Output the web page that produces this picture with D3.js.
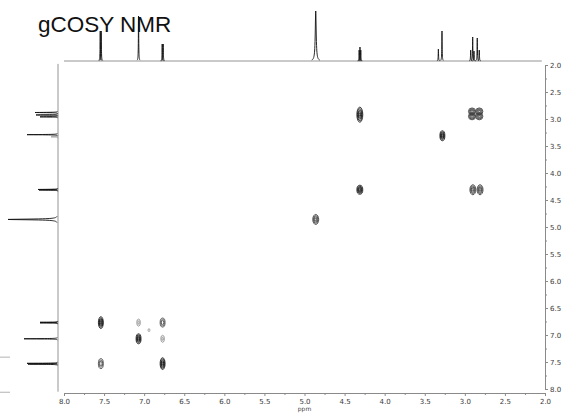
<!DOCTYPE html>
<html>
<head>
<meta charset="utf-8">
<script src="https://cdn.jsdelivr.net/npm/d3@7"></script>
<style>
  body { margin: 0; background: #fff; }
  svg { display: block; }
  .axis text { font-family: "DejaVu Sans", sans-serif; font-size: 7px; fill: #3a3a3a; }
  .axis path, .axis line { stroke: #8a8a8a; }
</style>
</head>
<body>
<svg id="chart" width="564" height="413"></svg>
<script>
// F2 projection (top trace): line positions in ppm and intensities
var topPpm = [7.548, 7.536, 7.07, 6.775, 6.763, 4.86, 4.318, 4.308, 4.298, 3.33, 3.285, 2.927, 2.902, 2.886, 2.845, 2.82];
var topInt = [60, 60, 90, 34, 34, 100, 22, 28, 22, 24, 60, 22, 48, 20, 46, 22];
var topHw = [0.0025, 0.0025, 0.0025, 0.0025, 0.0025, 0.007, 0.0025, 0.0025, 0.0025, 0.0025, 0.0025, 0.0025, 0.0025, 0.0025, 0.0025, 0.0025];

// F1 projection (left trace)
var leftPpm = [2.88, 2.925, 2.96, 3.33, 3.29, 4.305, 4.315, 4.86, 6.765, 6.775, 7.07, 7.525, 7.54];
var leftInt = [46, 44, 36, 14, 62, 40, 38, 100, 36, 36, 68, 62, 60];
var leftHw = [0.003, 0.003, 0.003, 0.004, 0.003, 0.003, 0.003, 0.008, 0.003, 0.003, 0.003, 0.003, 0.003];

// 2D cross / diagonal peaks (F2 ppm, F1 ppm, half widths in ppm, relative intensity)
var crossX = [7.54, 7.07, 6.77, 6.94, 7.07, 6.77, 7.54, 6.77, 4.86, 4.31, 4.31, 3.28, 2.90, 2.81, 2.91, 2.82, 2.91, 2.82];
var crossY = [6.77, 6.77, 6.77, 6.91, 7.07, 7.07, 7.53, 7.53, 4.86, 4.31, 2.92, 3.31, 4.31, 4.31, 2.86, 2.86, 2.95, 2.95];
var crossHwX = [0.031, 0.022, 0.031, 0.012, 0.031, 0.022, 0.031, 0.031, 0.037, 0.037, 0.037, 0.031, 0.037, 0.037, 0.045, 0.045, 0.045, 0.045];
var crossHwY = [0.11, 0.065, 0.084, 0.028, 0.093, 0.065, 0.093, 0.11, 0.093, 0.084, 0.14, 0.093, 0.093, 0.093, 0.065, 0.065, 0.065, 0.065];
var crossInt = [1, 0.35, 0.7, 0.25, 1, 0.35, 0.7, 1, 0.8, 1, 1, 1, 0.8, 0.8, 0.8, 0.8, 0.8, 0.8];

// contour levels
var levels = [0.15, 0.3, 0.5, 0.7, 0.9];

// axis ticks
var xTicks = [8.0, 7.5, 7.0, 6.5, 6.0, 5.5, 5.0, 4.5, 4.0, 3.5, 3.0, 2.5, 2.0];
var yTicks = [2.0, 2.5, 3.0, 3.5, 4.0, 4.5, 5.0, 5.5, 6.0, 6.5, 7.0, 7.5, 8.0];
var minorTicks = [7.75, 7.25, 6.75, 6.25, 5.75, 5.25, 4.75, 4.25, 3.75, 3.25, 2.75, 2.25];

// stray crop marks at the left edge (ppm on F1)
var edgeMarks = [7.41, 8.06];

var svg = d3.select('#chart');

var x = d3.scaleLinear().domain([8, 2]).range([64, 545]);
var y = d3.scaleLinear().domain([2, 8]).range([65, 389]);
var topAmp = d3.scaleLinear().domain([0, 100]).range([61, 11]);
var leftAmp = d3.scaleLinear().domain([0, 100]).range([58, 8]);
var shade = d3.scaleLinear().domain([0.2, 1]).range(['#a0a0a0', '#1a1a1a']);

// title
svg.append('text')
  .attr('x', 38).attr('y', 32)
  .style('font-family', '"Liberation Sans", Arial, sans-serif')
  .style('font-size', '22.5px')
  .style('fill', '#111')
  .text('gCOSY NMR');

// lorentzian glyph offsets, in half widths (cut where it meets the baseline)
var offs = d3.range(-7, 7.01, 0.25);

// top trace
var gTop = svg.append('g');
gTop.append('line')
  .attr('x1', x(8)).attr('x2', x(2.04))
  .attr('y1', topAmp(0)).attr('y2', topAmp(0))
  .attr('stroke', '#888').attr('stroke-width', 0.9);
var topLine = d3.line().x((d) => x(d[0])).y((d) => topAmp(d[1]));
gTop.selectAll('path')
  .data(topPpm.map((p, i) => ({ p: p, h: topInt[i], w: topHw[i] })))
  .join('path')
  .attr('d', (d) => topLine(offs.map((k) => [d.p + k * d.w, d.h / (1 + k * k)])))
  .attr('fill', 'none').attr('stroke', '#111').attr('stroke-width', 0.9);

// left trace
var gLeft = svg.append('g');
gLeft.append('line')
  .attr('x1', leftAmp(0)).attr('x2', leftAmp(0))
  .attr('y1', y(1.98)).attr('y2', y(8.05))
  .attr('stroke', '#888').attr('stroke-width', 0.9);
var leftLine = d3.line().x((d) => leftAmp(d[1])).y((d) => y(d[0]));
gLeft.selectAll('path')
  .data(leftPpm.map((p, i) => ({ p: p, h: leftInt[i], w: leftHw[i] })))
  .join('path')
  .attr('d', (d) => leftLine(offs.map((k) => [d.p + k * d.w, d.h / (1 + k * k)])))
  .attr('fill', 'none').attr('stroke', (d) => (d.h < 20 ? '#999' : '#111')).attr('stroke-width', 0.9);

svg.append('g').selectAll('line')
  .data(edgeMarks)
  .join('line')
  .attr('x1', 0).attr('x2', 10)
  .attr('y1', (d) => y(d)).attr('y2', (d) => y(d))
  .attr('stroke', '#aaa').attr('stroke-width', 0.9);

// contour rings
var rings = [];
crossX.forEach(function (px, i) {
  var A = crossInt[i];
  var base = Math.log(A / levels[0]);
  levels.filter((t) => t < A).forEach(function (t) {
    var f = Math.sqrt(Math.log(A / t) / base);
    rings.push({ cx: px, cy: crossY[i], wx: crossHwX[i] * f, wy: crossHwY[i] * f, a: A });
  });
});
svg.append('g').selectAll('ellipse')
  .data(rings)
  .join('ellipse')
  .attr('cx', (d) => x(d.cx))
  .attr('cy', (d) => y(d.cy))
  .attr('rx', (d) => x(8 - d.wx) - x(8))
  .attr('ry', (d) => y(2 + d.wy) - y(2))
  .attr('fill', 'none')
  .attr('stroke', (d) => shade(d.a))
  .attr('stroke-width', 0.85);

// axes
var fmt = d3.format('.1f');
svg.append('g').attr('class', 'axis')
  .attr('transform', 'translate(0,393)')
  .call(d3.axisBottom(x).tickValues(xTicks).tickFormat(fmt).tickSize(3).tickSizeOuter(3).tickPadding(3));
svg.append('g').attr('class', 'axis')
  .attr('transform', 'translate(0,393)')
  .call(d3.axisBottom(x).tickValues(minorTicks).tickFormat('').tickSize(2))
  .call((g) => g.select('.domain').remove());
svg.append('g').attr('class', 'axis')
  .attr('transform', 'translate(545,0)')
  .call(d3.axisRight(y).tickValues(yTicks).tickFormat(fmt).tickSize(3).tickSizeOuter(3).tickPadding(2));
svg.append('g').attr('class', 'axis')
  .attr('transform', 'translate(545,0)')
  .call(d3.axisRight(y).tickValues(minorTicks.map((d) => 10 - d)).tickFormat('').tickSize(2))
  .call((g) => g.select('.domain').remove());

svg.append('text')
  .attr('x', x(5)).attr('y', 411)
  .attr('text-anchor', 'middle')
  .style('font-family', '"DejaVu Sans", sans-serif')
  .style('font-size', '6px')
  .style('fill', '#444')
  .text('ppm');
</script>
</body>
</html>
